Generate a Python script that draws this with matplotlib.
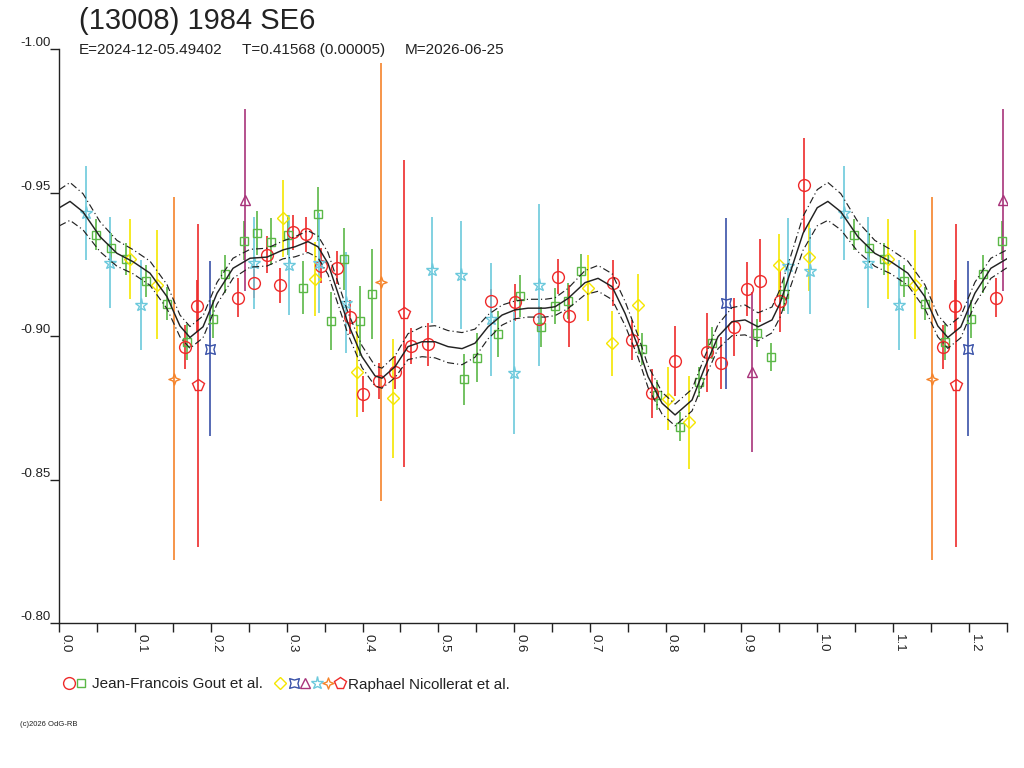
import numpy as np
import matplotlib
matplotlib.use("Agg")
import matplotlib.pyplot as plt
from matplotlib.path import Path

plt.rcParams['font.family'] = ['Liberation Sans', 'DejaVu Sans']
plt.rcParams['axes.unicode_minus'] = False

# ---------------- data ----------------
title = "(13008) 1984 SE6"
sub_e = "E=2024-12-05.49402"
sub_t = "T=0.41568 (0.00005)"
sub_m = "M=2026-06-25"
observer1 = "Jean-Francois Gout et al."
observer2 = "Raphael Nicollerat et al."
copyright_txt = "(c)2026 OdG-RB"

# Observer 1: red circles
red_circ_phase = [0.1653, 0.1820, 0.2361, 0.2568, 0.2740, 0.2907, 0.3079, 0.3254, 0.3452, 0.3659,
                  0.3839, 0.4002, 0.4221, 0.4433, 0.4640, 0.4864, 0.5691, 0.6012, 0.6325, 0.6576,
                  0.6729, 0.7309, 0.7552, 0.7816, 0.8124, 0.8550, 0.8731, 0.8906, 0.9078, 0.9249,
                  0.9509, 0.9830]
red_circ_mag = [-0.8964, -0.9106, -0.9135, -0.9185, -0.9284, -0.9178, -0.9363, -0.9355, -0.9246, -0.9239,
                -0.9068, -0.8798, -0.8845, -0.8875, -0.8966, -0.8972, -0.9124, -0.9118, -0.9062, -0.9208,
                -0.9071, -0.9185, -0.8987, -0.8801, -0.8914, -0.8944, -0.8908, -0.9033, -0.9164, -0.9194,
                -0.9122, -0.9527]
red_circ_err = [0.0077, 0.0090, 0.0068, 0.0050, 0.0064, 0.0061, 0.0061, 0.0061, 0.0060, 0.0057,
                0.0060, 0.0063, 0.0062, 0.0058, 0.0064, 0.0074, 0.0040, 0.0064, 0.0045, 0.0060,
                0.0109, 0.0080, 0.0069, 0.0084, 0.0123, 0.0138, 0.0091, 0.0100, 0.0094, 0.0145,
                0.0106, 0.0164]

# Observer 1: green squares
green_sq_phase = [0.0479, 0.0685, 0.0879, 0.1139, 0.1420, 0.1688, 0.2027, 0.2189, 0.2432, 0.2604,
                  0.2792, 0.3021, 0.3215, 0.3409, 0.3584, 0.3756, 0.3963, 0.4121, 0.5339, 0.5507,
                  0.5784, 0.6074, 0.6351, 0.6544, 0.6716, 0.6883, 0.7692, 0.7882, 0.8189, 0.8444,
                  0.8616, 0.9206, 0.9394, 0.9555]
green_sq_mag = [-0.9354, -0.9308, -0.9270, -0.9193, -0.9114, -0.8980, -0.9061, -0.9218, -0.9333, -0.9361,
                -0.9330, -0.9354, -0.9169, -0.9427, -0.9054, -0.9270, -0.9053, -0.9148, -0.8850, -0.8925,
                -0.9009, -0.9141, -0.9032, -0.9106, -0.9123, -0.9229, -0.8956, -0.8796, -0.8685, -0.8842,
                -0.8976, -0.9010, -0.8927, -0.9146]
green_sq_err = [0.0055, 0.0052, 0.0056, 0.0055, 0.0057, 0.0064, 0.0067, 0.0067, 0.0068, 0.0077,
                0.0081, 0.0070, 0.0093, 0.0094, 0.0102, 0.0107, 0.0122, 0.0156, 0.0090, 0.0085,
                0.0080, 0.0073, 0.0070, 0.0063, 0.0064, 0.0057, 0.0055, 0.0053, 0.0051, 0.0052,
                0.0056, 0.0049, 0.0049, 0.0058]

# Observer 2 sessions
yellow_phase = [0.0936, 0.1292, 0.2951, 0.3377, 0.3931, 0.4406, 0.6980, 0.7296, 0.7639, 0.8035, 0.8308, 0.9499, 0.9888]
yellow_mag = [-0.9270, -0.9179, -0.9412, -0.9201, -0.8877, -0.8784, -0.9169, -0.8976, -0.9109, -0.8782, -0.8700, -0.9249, -0.9277]
yellow_err = [0.0139, 0.0190, 0.0134, 0.0129, 0.0159, 0.0207, 0.0116, 0.0113, 0.0107, 0.0110, 0.0161, 0.0109, 0.0118]

blue_phase = [0.1987, 0.8797]
blue_mag = [-0.8957, -0.9115]
blue_err = [0.0306, 0.0297]

purple_phase = [0.2453, 0.9144]
purple_mag = [-0.9475, -0.8877]
purple_err = [0.0317, 0.0279]

cyan_phase = [0.0351, 0.0672, 0.1073, 0.2572, 0.3030, 0.3426, 0.3778, 0.4921, 0.5296, 0.5699, 0.5995, 0.6329, 0.9619, 0.9901]
cyan_mag = [-0.9429, -0.9256, -0.9109, -0.9254, -0.9249, -0.9254, -0.9117, -0.9231, -0.9214, -0.9060, -0.8871, -0.9179, -0.9245, -0.9228]
cyan_err = [0.0163, 0.0158, 0.0158, 0.0160, 0.0175, 0.0174, 0.0175, 0.0186, 0.0187, 0.0197, 0.0212, 0.0282, 0.0166, 0.0151]

orange_phase = [0.1516, 0.4244]
orange_mag = [-0.8852, -0.9190]
orange_err = [0.0633, 0.0764]

pent_phase = [0.1833, 0.4547]
pent_mag = [-0.8829, -0.9080]
pent_err = [0.0562, 0.0535]

# Fitted lightcurve and its uncertainty band half-width
curve_phase = [0.0000, 0.0140, 0.0311, 0.0536, 0.0760, 0.0971, 0.1195, 0.1420, 0.1591, 0.1723,
               0.1895, 0.2080, 0.2291, 0.2515, 0.2740, 0.2951, 0.3109, 0.3280, 0.3412, 0.3544,
               0.3676, 0.3808, 0.3993, 0.4165, 0.4256, 0.4429, 0.4600, 0.4785, 0.4956, 0.5128,
               0.5313, 0.5484, 0.5656, 0.5841, 0.6012, 0.6184, 0.6408, 0.6540, 0.6712, 0.6936,
               0.7108, 0.7293, 0.7464, 0.7636, 0.7768, 0.7952, 0.8124, 0.8348, 0.8520, 0.8691,
               0.8876, 0.9047, 0.9219, 0.9403, 0.9509, 0.9641, 0.9813, 1.0000]
curve_mag = [-0.9448, -0.9470, -0.9434, -0.9347, -0.9289, -0.9260, -0.9220, -0.9138, -0.9036, -0.8996,
             -0.9033, -0.9150, -0.9237, -0.9272, -0.9276, -0.9301, -0.9312, -0.9330, -0.9312, -0.9254,
             -0.9150, -0.9045, -0.8929, -0.8862, -0.8854, -0.8894, -0.8964, -0.8981, -0.8981, -0.8964,
             -0.8957, -0.8976, -0.9033, -0.9074, -0.9092, -0.9098, -0.9098, -0.9103, -0.9132, -0.9187,
             -0.9202, -0.9173, -0.9080, -0.8964, -0.8859, -0.8767, -0.8726, -0.8778, -0.8894, -0.8999,
             -0.9051, -0.9057, -0.9033, -0.9057, -0.9115, -0.9220, -0.9359, -0.9448]
curve_sigma = [0.0063, 0.0066, 0.0063, 0.0052, 0.0045, 0.0042, 0.0042, 0.0042, 0.0038, 0.0038,
               0.0038, 0.0038, 0.0035, 0.0031, 0.0031, 0.0031, 0.0035, 0.0038, 0.0038, 0.0038,
               0.0038, 0.0038, 0.0038, 0.0035, 0.0035, 0.0038, 0.0045, 0.0052, 0.0056, 0.0056,
               0.0056, 0.0049, 0.0042, 0.0035, 0.0031, 0.0031, 0.0031, 0.0031, 0.0035, 0.0042,
               0.0045, 0.0045, 0.0042, 0.0038, 0.0038, 0.0038, 0.0038, 0.0038, 0.0038, 0.0042,
               0.0049, 0.0052, 0.0049, 0.0045, 0.0049, 0.0052, 0.0059, 0.0063]

x_ticks = [round(0.05 * i, 2) for i in range(26)]
x_labels = ["0.0", "", "0.1", "", "0.2", "", "0.3", "", "0.4", "", "0.5", "", "0.6", "",
            "0.7", "", "0.8", "", "0.9", "", "1.0", "", "1.1", "", "1.2", ""]
y_ticks = [-1.00, -0.95, -0.90, -0.85, -0.80]
y_labels = ["-1.00", "-0.95", "-0.90", "-0.85", "-0.80"]
x_max = 1.25

# ---------------- markers ----------------
def star4(inner, diag=False):
    verts = []
    for k in range(8):
        ang = np.pi / 2 + k * np.pi / 4 + (np.pi / 4 if diag else 0)
        r = 1.0 if k % 2 == 0 else inner
        verts.append((r * np.cos(ang), r * np.sin(ang)))
    verts.append(verts[0])
    codes = [Path.MOVETO] + [Path.LINETO] * 7 + [Path.CLOSEPOLY]
    return Path(verts, codes)

blue_marker = star4(0.5, diag=True)
orange_marker = star4(0.38)

RED = '#ee2a2a'
GREEN = '#5bb847'
YELLOW = '#f5e600'
BLUE = '#3a52a8'
PURPLE = '#a8337a'
CYAN = '#6cc9dc'
ORANGE = '#f5832a'
INK = '#222222'

series = [
    (green_sq_phase, green_sq_mag, green_sq_err, GREEN, 's', 6.3),
    (red_circ_phase, red_circ_mag, red_circ_err, RED, 'o', 8.5),
    (yellow_phase, yellow_mag, yellow_err, YELLOW, 'D', 6.5),
    (cyan_phase, cyan_mag, cyan_err, CYAN, '*', 9.5),
    (blue_phase, blue_mag, blue_err, BLUE, blue_marker, 7.0),
    (purple_phase, purple_mag, purple_err, PURPLE, '^', 7.5),
    (orange_phase, orange_mag, orange_err, ORANGE, orange_marker, 8.0),
    (pent_phase, pent_mag, pent_err, RED, 'p', 8.5),
]

# ---------------- figure ----------------
fig = plt.figure(figsize=(10.24, 7.68), dpi=100)
fig.patch.set_facecolor('white')
ax = fig.add_axes([59.4 / 1024, 1 - 623.3 / 768, (1006.7 - 59.4) / 1024, (623.3 - 49.3) / 768])

# fitted curve, repeated past phase 1
cp = np.array(curve_phase)
cm = np.array(curve_mag)
cs = np.array(curve_sigma)
ext = cp < 0.3
P = np.concatenate([cp, cp[ext][1:] + 1.0])
M = np.concatenate([cm, cm[ext][1:]])
S = np.concatenate([cs, cs[ext][1:]])
ax.plot(P, M, color=INK, lw=1.05, zorder=4)
ax.plot(P, M - S, color=INK, lw=0.85, ls=(0, (6, 2.5, 1, 2.5)), zorder=4)
ax.plot(P, M + S, color=INK, lw=0.85, ls=(0, (6, 2.5, 1, 2.5)), zorder=4)

for ph, mg, er, col, mk, ms in series:
    ph = np.array(ph); mg = np.array(mg); er = np.array(er)
    sel = ph + 1.0 <= x_max
    X = np.concatenate([ph, ph[sel] + 1.0])
    Y = np.concatenate([mg, mg[sel]])
    E = np.concatenate([er, er[sel]])
    ax.vlines(X, Y - E, Y + E, colors=col, lw=1.2, zorder=2)
    ax.plot(X, Y, ls='none', marker=mk, ms=ms, mfc='none', mec=col, mew=1.0, zorder=3)

ax.set_xlim(0, x_max)
ax.set_ylim(-0.80, -1.00)
for s in ['top', 'right']:
    ax.spines[s].set_visible(False)
for s in ['left', 'bottom']:
    ax.spines[s].set_color(INK)
    ax.spines[s].set_linewidth(1.0)

ax.set_xticks(x_ticks)
ax.set_xticklabels(x_labels, rotation=270, ha='left', va='top', fontsize=9.5, color=INK)
ax.set_yticks(y_ticks)
ax.set_yticklabels(y_labels, va='bottom', fontsize=9.5, color=INK)
ax.tick_params(axis='both', direction='out', length=6.5, width=1.0, color=INK)
ax.tick_params(axis='x', pad=1)
ax.tick_params(axis='y', pad=0)

# titles
fig.text(79 / 1024, 1 - 29 / 768, title, fontsize=21, color=INK, va='baseline', ha='left')
fig.text(79 / 1024, 1 - 54 / 768, sub_e, fontsize=11, color=INK, va='baseline', ha='left')
fig.text(241.5 / 1024, 1 - 54 / 768, sub_t, fontsize=11, color=INK, va='baseline', ha='left')
fig.text(405 / 1024, 1 - 54 / 768, sub_m, fontsize=11, color=INK, va='baseline', ha='left')

# legend row
lax = fig.add_axes([0, 0, 1, 1], facecolor='none')
lax.set_xlim(0, 1024)
lax.set_ylim(768, 0)
lax.axis('off')
leg_y = 683
leg1 = [(69, RED, 'o', 8.5), (80.5, GREEN, 's', 6.3)]
leg2 = [(280, YELLOW, 'D', 6.5), (293.5, BLUE, blue_marker, 7.0), (305, PURPLE, '^', 7.5),
        (316.5, CYAN, '*', 9.5), (328, ORANGE, orange_marker, 8.0), (339.5, RED, 'p', 8.5)]
for xx, col, mk, ms in leg1 + leg2:
    lax.plot([xx], [leg_y], ls='none', marker=mk, ms=ms, mfc='none', mec=col, mew=1.0)
lax.text(91.5, 688.5, observer1, fontsize=11, color=INK, va='baseline', ha='left')
lax.text(348, 688.5, observer2, fontsize=11, color=INK, va='baseline', ha='left')
lax.text(20, 726.5, copyright_txt, fontsize=5.5, color=INK, va='baseline', ha='left')

fig.savefig('out.png', dpi=100, facecolor='white')
